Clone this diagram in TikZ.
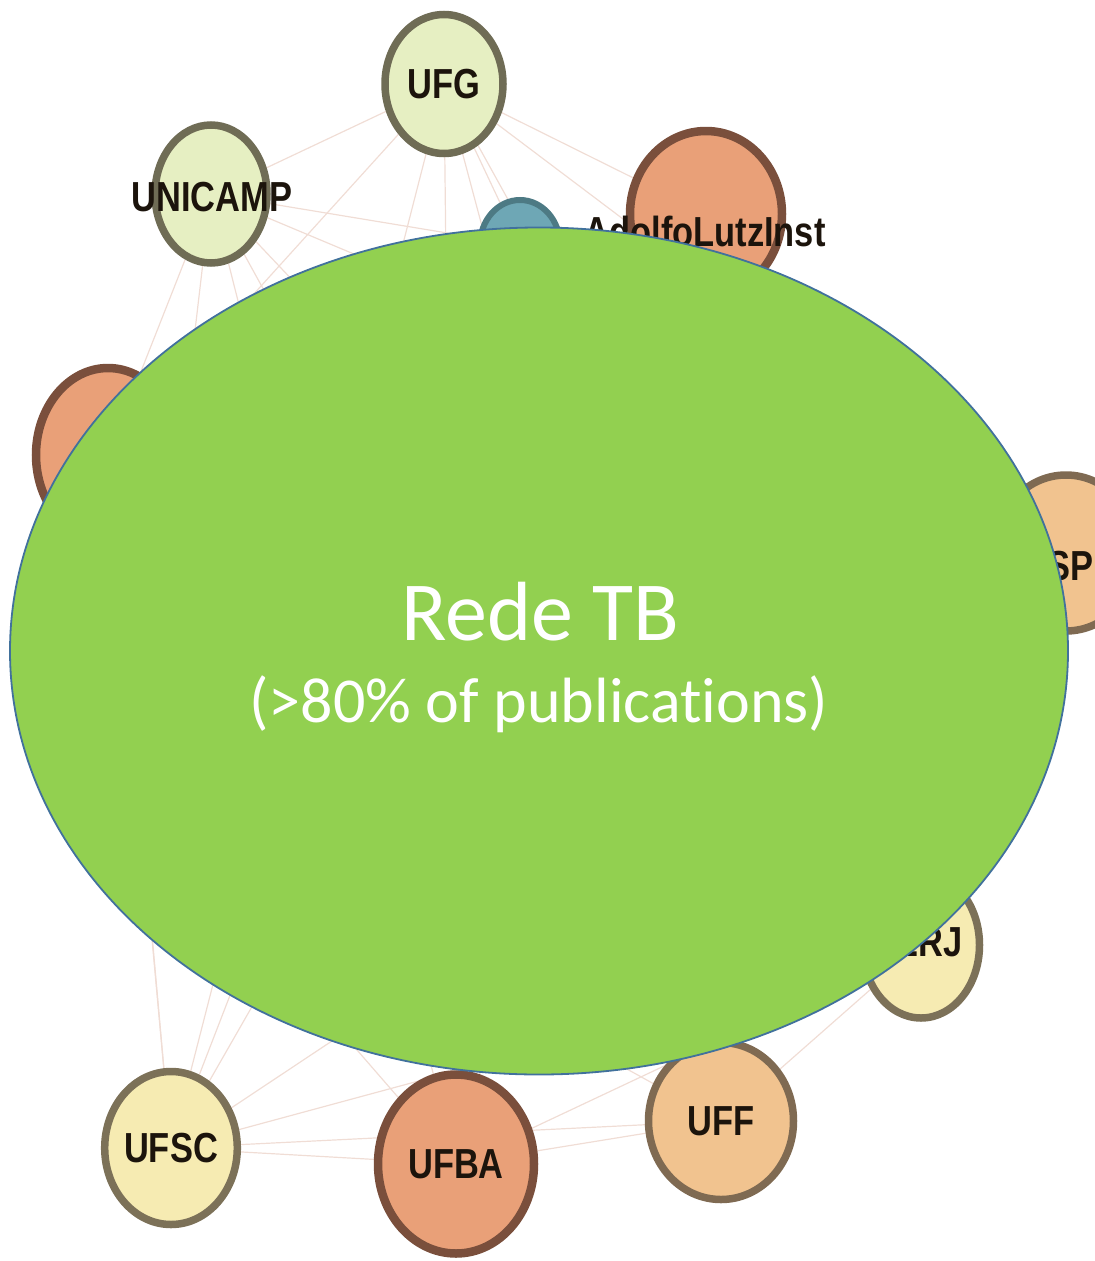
\documentclass[tikz,border=0pt]{standalone}
\usepackage{fontspec}
\setmainfont{Carlito}[Ligatures=NoCommon]
\newfontfamily\netfont{Liberation Sans}[FakeStretch=0.82]
\usetikzlibrary{shapes.geometric,backgrounds}
\definecolor{tbgreen}{HTML}{92D050}
\definecolor{tbblue}{HTML}{41719C}
\definecolor{paleG}{HTML}{E6EFC2}
\definecolor{oliveR}{HTML}{6F6C55}
\definecolor{paleY}{HTML}{F6EBB2}
\definecolor{khakiR}{HTML}{7C7158}
\definecolor{salmonF}{HTML}{E9A078}
\definecolor{brownR}{HTML}{7A4F3C}
\definecolor{peachF}{HTML}{F1C38F}
\definecolor{peachR}{HTML}{7F6A52}
\definecolor{tealF}{HTML}{6EA7B5}
\definecolor{tealR}{HTML}{4D7A84}
\definecolor{edgepink}{HTML}{F0DDD5}
\definecolor{ink}{HTML}{1C140C}
\begin{document}
\begin{tikzpicture}[x=1pt,y=-1pt,
  inst/.style={ellipse, inner sep=0pt, line width=7.5pt,
    font=\netfont\bfseries\fontsize{42}{42}\selectfont, text=ink},
  lightnode/.style={inst, fill=paleG, draw=oliveR},
  yellownode/.style={inst, fill=paleY, draw=khakiR},
  salmonnode/.style={inst, fill=salmonF, draw=brownR, line width=8.5pt},
  peachnode/.style={inst, fill=peachF, draw=peachR},
  tealnode/.style={inst, fill=tealF, draw=tealR, line width=6pt},
  instlabel/.style={font=\netfont\bfseries\fontsize{42}{42}\selectfont, text=ink, inner sep=0pt},
  netedge/.style={draw=edgepink, line width=1.2pt},
  bigoval/.style={ellipse, fill=tbgreen, draw=tbblue, line width=1.8pt,
    minimum width=1058pt, minimum height=847pt, inner sep=0pt},
  whitetext/.style={text=white, inner sep=0pt, anchor=base}
]
\useasboundingbox (0,0) rectangle (1095,1261);

% institutions
\node[lightnode, minimum width=118pt, minimum height=139pt] (ufg) at (444,84) {UFG};
\node[lightnode, minimum width=112pt, minimum height=138pt] (unicamp) at (211,194) {};
\node[instlabel] (unicamplabel) at (212,197) {UNICAMP};
\node[tealnode, minimum width=80pt, minimum height=90pt] (ali2) at (520,245) {};
\node[salmonnode, minimum width=152pt, minimum height=166pt] (lutz) at (706,214) {};
\node[instlabel] (lutzlabel) at (705,231) {AdolfoLutzInst};
\node[salmonnode, minimum width=144pt, minimum height=174pt] (leftnode) at (108,455) {};
\node[salmonnode, minimum width=154pt, minimum height=172pt] (lowleft) at (140,800) {};
\node[peachnode, minimum width=144pt, minimum height=156pt] (usp) at (1066,553) {};
\node[instlabel] (usplabel) at (1058,566) {USP};
\node[yellownode, minimum width=117pt, minimum height=146pt] (uerj) at (921,945) {};
\node[instlabel] (uerjlabel) at (917,942) {UERJ};
\node[peachnode, minimum width=145pt, minimum height=157pt] (uff) at (721,1121) {UFF};
\node[salmonnode, minimum width=156pt, minimum height=179pt] (ufba) at (456,1164) {UFBA};
\node[yellownode, minimum width=127pt, minimum height=153pt] (ufsc) at (171,1148) {UFSC};

% connections
\begin{pgfonlayer}{background}
\foreach \a/\b in {unicamp/ali2, unicamp/ufg, unicamp/ufba, unicamp/uerj, unicamp/usp,
  unicamp/uff, unicamp/lowleft, unicamp/leftnode, ufg/ali2, ufg/lutz, ufg/ufba, ufg/uff,
  ufg/leftnode, ufg/ufsc, ufg/usp, ufg/uerj, lutz/usp, lutz/ufsc, lutz/ufba, lutz/leftnode,
  ufsc/leftnode, ufsc/lowleft, ufsc/ufba, ufsc/uff, ufsc/usp, ufsc/uerj, ufsc/ali2,
  ufba/uff, ufba/uerj, ufba/lowleft, ufba/ali2, uff/uerj, uff/lowleft, uerj/usp, ali2/ufba}
  \draw[netedge] (\a) -- (\b);
\end{pgfonlayer}

% Rede TB overlay
\node[bigoval] (rede) at (539,651) {};
\node[whitetext, font=\fontsize{84}{84}\selectfont] (title) at (540,640) {Rede TB};
\node[whitetext, font=\fontsize{64}{64}\selectfont] (sub) at (539,722) {(>80\% of publications)};
\end{tikzpicture}
\end{document}
